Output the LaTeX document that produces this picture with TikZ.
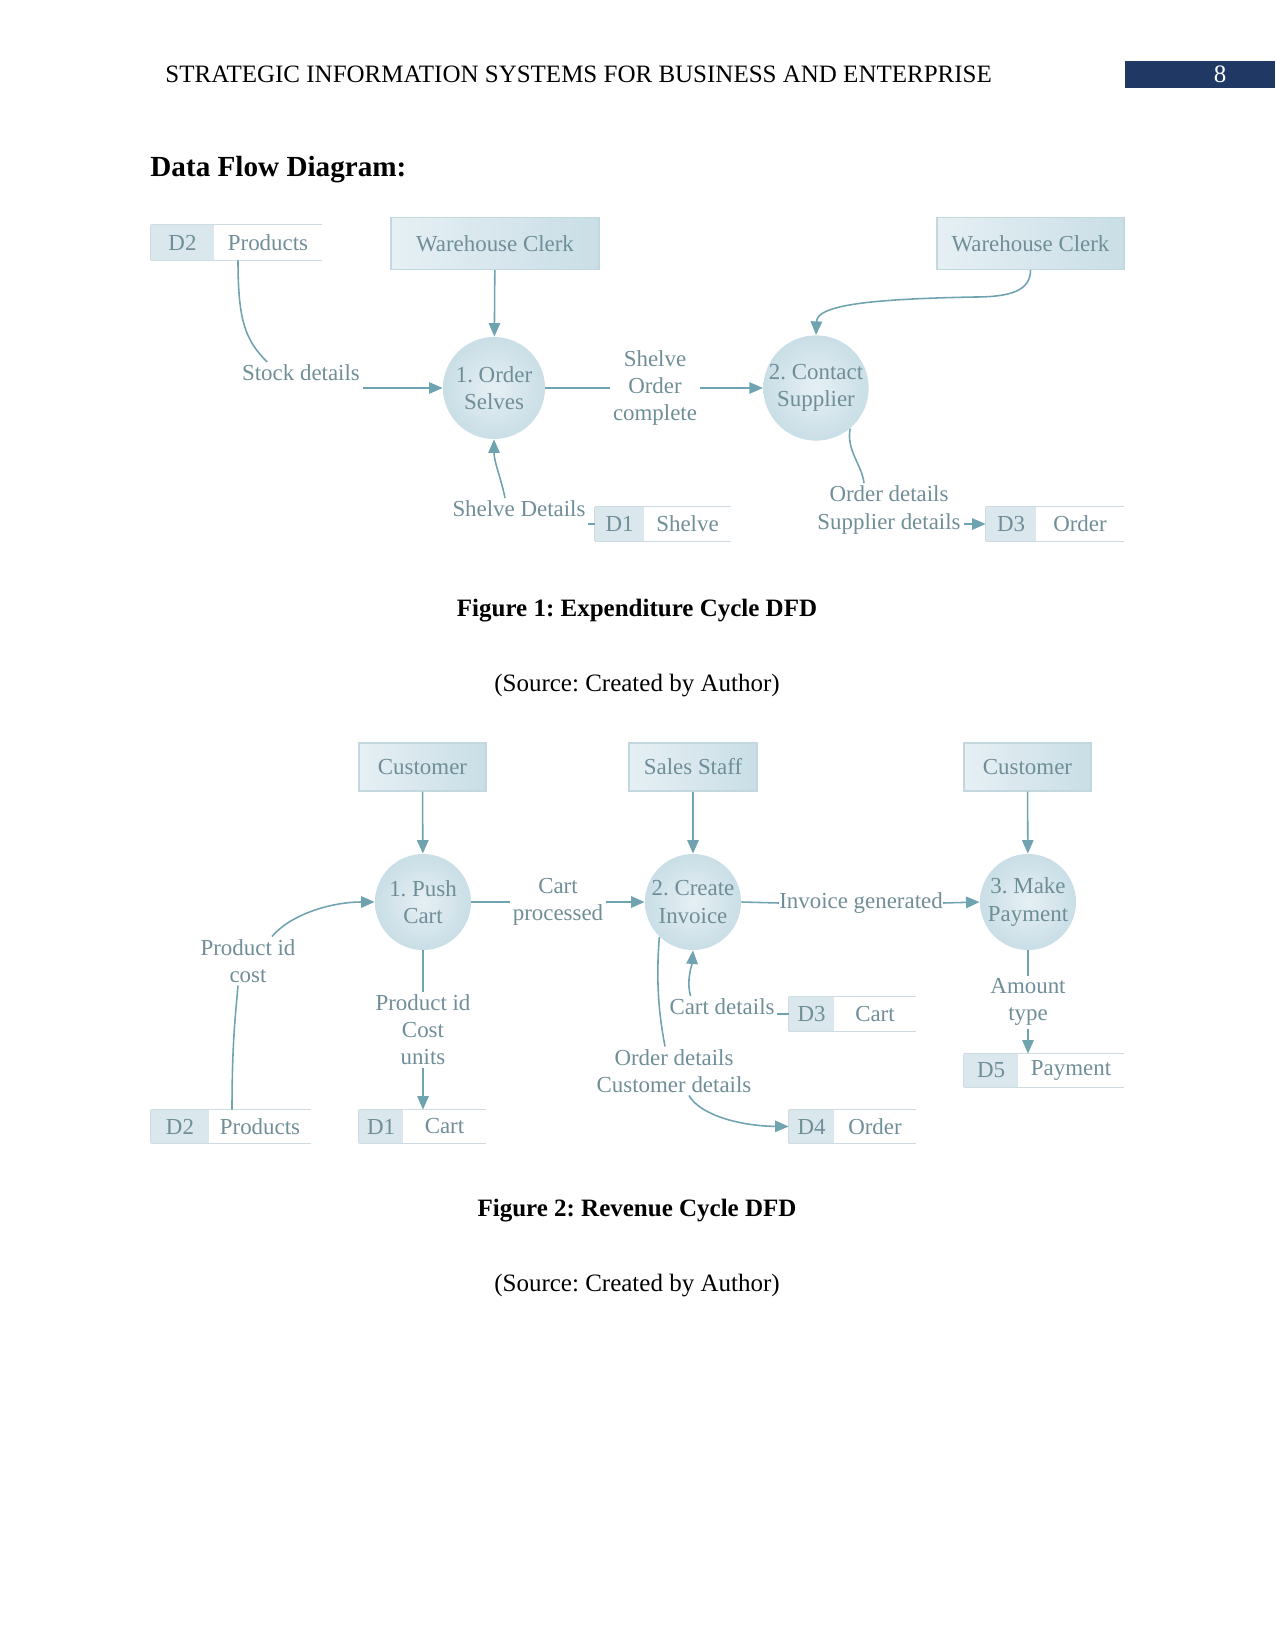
\documentclass[tikz,border=0pt]{standalone}
\usepackage{fontspec}
\setmainfont{Liberation Serif}
\usetikzlibrary{arrows.meta,calc}
\frenchspacing
\definecolor{txt}{HTML}{6F8E97}
\definecolor{lnc}{HTML}{6FA3B0}
\definecolor{entA}{HTML}{E6F0F4}
\definecolor{entB}{HTML}{C9DEE6}
\definecolor{entD}{HTML}{C3D7DF}
\definecolor{stD}{HTML}{DAE8ED}
\definecolor{stL}{HTML}{CCDCE2}
\definecolor{navy}{HTML}{1F3864}
\newcommand\dstore[8]{%
  \node[stid, minimum width={(#5-#4)*0.48pt}, minimum height={(#8-#7)*0.48pt}] (#1) at ({(#4+#5)/2},{-(#7+#8)/2}) {#2};
  \node[stnm, minimum width={(#6-#5)*0.48pt}, minimum height={(#8-#7)*0.48pt}] (#1n) at ({(#5+#6)/2},{-(#7+#8)/2}) {#3};
  \draw[stline] (#1.north west) -- (#1n.north east) (#1.south west) -- (#1n.south east) (#1.north west) -- (#1.south west);
}
\begin{document}
\begin{tikzpicture}[x=0.48pt,y=0.48pt,
  dfont/.style={font=\fontsize{11}{13}\selectfont\frenchspacing},
  ent/.style={rectangle, draw=entD, line width=0.5pt, left color=entA, right color=entB, text=txt, dfont, inner sep=0pt},
  proc/.style={circle, inner color=entA, outer color=entB, draw=none, text=txt, dfont, align=center, inner sep=0pt},
  stid/.style={rectangle, fill=stD, text=txt, dfont, inner sep=0pt},
  stnm/.style={rectangle, text=txt, dfont, inner sep=0pt},
  stline/.style={draw=stL, line width=0.7pt},
  lbl/.style={text=txt, dfont, align=center, inner sep=1.2pt},
  ln/.style={draw=lnc, line width=0.75pt},
  flow/.style={ln, -{Triangle[length=6.5pt,width=5.5pt]}},
  figcap/.style={font=\fontsize{12}{14}\selectfont\bfseries\frenchspacing, anchor=base},
  srctext/.style={font=\fontsize{12}{14}\selectfont\frenchspacing, anchor=base}
]
\useasboundingbox (0,0) rectangle (1275,-1650);
% header
\node[anchor=base west, inner sep=0pt, font=\fontsize{12}{14}\selectfont] (hdr) at (165,-83) {STRATEGIC INFORMATION SYSTEMS FOR BUSINESS AND ENTERPRISE};
\node[fill=navy, minimum width={150*0.48pt}, minimum height={27*0.48pt}, inner sep=0pt] (pgbox) at (1200,-74.5) {};
\node[anchor=base, text=white, inner sep=0pt, font=\fontsize{12}{14}\selectfont] (pgnum) at (1220,-83) {8};
\node[anchor=base west, inner sep=0pt, font=\fontsize{14}{16}\selectfont\bfseries] (title) at (150,-177) {Data Flow Diagram:};

% ===== Figure 1 =====
\node[ent, minimum width={208*0.48pt}, minimum height={52*0.48pt}] (wc1) at (495,-243.5) {Warehouse Clerk};
\node[ent, minimum width={187*0.48pt}, minimum height={52*0.48pt}] (wc2) at (1030.5,-243.5) {Warehouse Clerk};
\node[proc, minimum size={102*0.48pt}] (p1) at (494,-388) {1. Order\\Selves};
\node[proc, minimum size={102*0.48pt}] (p2) at (816,-388) {2. Contact\\Supplier};
\dstore{d2t}{D2}{Products}{151}{214}{322}{225}{260}
\dstore{d1t}{D1}{Shelve}{595}{644}{731}{507}{541}
\dstore{d3t}{D3}{Order}{986}{1036}{1124}{507}{541}

\node[lbl] (stock) at (301,-373) {Stock details};
\node[lbl] (soc) at (655,-388) {Shelve\\Order\\complete};
\node[lbl] (sd) at (519,-509) {Shelve Details};
\node[lbl] (osd) at (889,-510) {Order details\\Supplier details};
\coordinate (c2a) at (975,-297);

\draw[ln] ($(d2tn.south)+(-30,0)$) .. controls (238,-320) and (245,-340) .. ($(stock.north west)+(28,0)$);
\draw[flow] (stock.east |- p1.west) -- (p1.west);
\draw[flow] (wc1) -- (p1);
\draw[ln] (p1.east) -- (soc.west);
\draw[flow] (soc.east) -- (p2.west);
\draw[flow] (wc2.south) .. controls (1030.5,-290) and (1012,-297) .. (c2a) .. controls (870,-299) and (817,-305) .. (p2.north);
\draw[flow] ($(sd.north)+(-14,0)$) .. controls (501,-478) and (494,-462) .. (p1.south);
\draw[ln] (sd.east |- d1t.west) -- (d1t.west);
\draw[ln] (p2.-50) .. controls (846,-450) and (862,-465) .. ($(osd.north)+(-25,0)$);
\draw[flow] (osd.east |- d3t.west) -- (d3t.west);

\node[figcap] (cap1) at (637,-616) {Figure 1: Expenditure Cycle DFD};
\node[srctext] (src1) at (637,-691) {(Source: Created by Author)};

% ===== Figure 2 =====
\node[ent, minimum width={127*0.48pt}, minimum height={48*0.48pt}] (cu1) at (422.5,-767) {Customer};
\node[ent, minimum width={128*0.48pt}, minimum height={48*0.48pt}] (ss) at (693,-767) {Sales Staff};
\node[ent, minimum width={127*0.48pt}, minimum height={48*0.48pt}] (cu2) at (1027.5,-767) {Customer};
\node[proc, minimum size={96*0.48pt}] (pc1) at (423,-902) {1. Push\\Cart};
\node[proc, minimum size={96*0.48pt}] (ci) at (693,-902) {2. Create\\Invoice};
\node[proc, minimum size={96*0.48pt}] (mp) at (1028,-902) {3. Make\\Payment};
\dstore{d2b}{D2}{Products}{151}{209}{311}{1110}{1143}
\dstore{d1c}{D1}{Cart}{359}{403}{486}{1110}{1143}
\dstore{d3c}{D3}{Cart}{789}{834}{916}{997}{1031}
\dstore{d4o}{D4}{Order}{789}{834}{916}{1110}{1143}
\dstore{d5p}{D5}{Payment}{964}{1018}{1124}{1054}{1087}

\node[lbl] (cp) at (558,-902) {Cart\\processed};
\node[lbl, inner sep=0pt] (ig) at (861,-903) {Invoice generated};
\node[lbl] (pic) at (248,-961) {Product id\\cost};
\node[lbl] (pcu) at (423,-1030) {Product id\\Cost\\units};
\node[lbl] (cd) at (722,-1007) {Cart details};
\node[lbl] (ocd) at (674,-1071) {Order details\\Customer details};
\node[lbl] (amt) at (1028,-1002) {Amount\\type};

\draw[flow] (cu1) -- (pc1);
\draw[flow] (ss) -- (ci);
\draw[flow] (cu2) -- (mp);
\draw[ln] (pc1.east) -- (cp.west);
\draw[flow] (cp.east) -- (ci.west);
\draw[ln] (ci.east) -- (ig.west);
\draw[flow] (ig.east) -- (mp.west);
\draw[ln] ($(d2bn.north)+(-28,0)$) .. controls (232,-1040) and (236,-1010) .. ($(pic.south)+(-10,0)$);
\draw[flow] ($(pic.north)+(24,0)$) .. controls (290,-915) and (330,-902) .. (pc1.west);
\draw[ln] (pc1.south) -- (pcu.north);
\draw[flow] (pcu.south) -- (pcu.south |- d1cn.north);
\draw[flow] ($(cd.north west)+(24,0)$) .. controls (686,-980) and (692,-965) .. (ci.south);
\draw[ln] (cd.east |- d3c.west) -- (d3c.west);
\draw[ln] (ci.-134) .. controls (655,-990) and (661,-1025) .. ($(ocd.north)+(-9,0)$);
\draw[flow] ($(ocd.south)+(15,0)$) .. controls (700,-1115) and (740,-1126) .. (d4o.west);
\draw[ln] (mp.south) -- (amt.north);
\draw[flow] (amt.south) -- (amt.south |- d5pn.north);

\node[figcap] (cap2) at (637,-1216) {Figure 2: Revenue Cycle DFD};
\node[srctext] (src2) at (637,-1291) {(Source: Created by Author)};
\end{tikzpicture}
\end{document}
